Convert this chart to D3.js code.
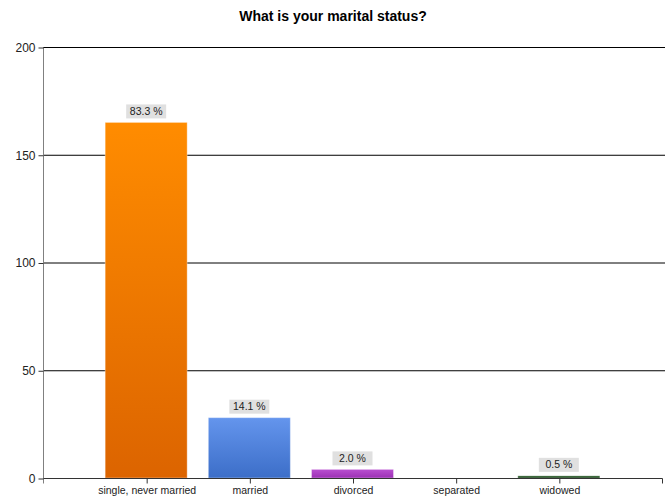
<!DOCTYPE html>
<html>
<head>
<meta charset="utf-8">
<script src="https://cdn.jsdelivr.net/npm/d3@7"></script>
<style>
  body { margin: 0; background: #fff; }
  svg { display: block; font-family: "Liberation Sans", Arial, sans-serif; }
</style>
</head>
<body>
<svg id="chart" width="667" height="499"></svg>
<script>
// Survey answers: marital status
const categories = ["single, never married", "married", "divorced", "separated", "widowed"];
const counts = [165, 28, 4, 0, 1];
const percentLabels = ["83.3 %", "14.1 %", "2.0 %", null, "0.5 %"];
const yTicks = [0, 50, 100, 150, 200];
const barTop = ["#ff8c00", "#6495ed", "#b94fd0", "#888888", "#2a5e2a"];
const barBottom = ["#dc6400", "#3c6ec8", "#9c30b4", "#666666", "#164016"];

const svg = d3.select("#chart");
const plotLeft = 43, plotRight = 662, plotTop = 47, plotBottom = 478;

const x = d3.scaleLinear().domain([0, categories.length + 1]).range([plotLeft, plotRight]);
const y = d3.scaleLinear().domain([0, 200]).range([plotBottom, plotTop]);
const barWidth = 82;

// Title
svg.append("text")
  .attr("x", 333).attr("y", 21)
  .attr("text-anchor", "middle")
  .attr("font-size", 14).attr("font-weight", "bold")
  .attr("fill", "#000")
  .text("What is your marital status?");

// Gradients
const defs = svg.append("defs");
categories.forEach((c, i) => {
  const g = defs.append("linearGradient").attr("id", "grad" + i)
    .attr("x1", 0).attr("y1", 0).attr("x2", 0).attr("y2", 1);
  g.append("stop").attr("offset", "0%").attr("stop-color", barTop[i]);
  g.append("stop").attr("offset", "100%").attr("stop-color", barBottom[i]);
});

// Horizontal gridlines
svg.append("g").selectAll("line")
  .data(yTicks.filter(t => t > 0))
  .join("line")
  .attr("x1", plotLeft).attr("x2", plotRight + 3)
  .attr("y1", d => y(d) + 0.5).attr("y2", d => y(d) + 0.5)
  .attr("stroke", "#000").attr("stroke-width", 1);

// Y axis
const yAxis = d3.axisLeft(y).tickValues(yTicks).tickSize(5).tickPadding(3);
const gy = svg.append("g").attr("transform", `translate(${plotLeft + 0.5},0.5)`).call(yAxis);
gy.select(".domain").attr("stroke", "#808080").attr("d", `M0,${plotTop}V${plotBottom + 5}`);
gy.selectAll(".tick line").attr("stroke", "#333");
gy.selectAll(".tick text").attr("font-size", 12).attr("fill", "#222")
  .attr("font-family", "'Liberation Sans', Arial, sans-serif");

// Bars
svg.append("g").selectAll("rect")
  .data(counts.map((v, i) => ({ v, i })).filter(d => d.v > 0))
  .join("rect")
  .attr("x", d => x(d.i + 1) - barWidth / 2)
  .attr("width", barWidth)
  .attr("y", d => y(d.v))
  .attr("height", d => Math.max(1, y(0) - y(d.v)))
  .attr("fill", d => `url(#grad${d.i})`)
  .attr("stroke", "rgba(255,255,255,0.35)").attr("stroke-width", 1);

// X axis
const xAxis = d3.axisBottom(x)
  .tickValues(d3.range(1, categories.length + 1))
  .tickFormat(d => categories[d - 1])
  .tickSize(5).tickPadding(3);
const gx = svg.append("g").attr("transform", `translate(0.5,${plotBottom + 0.5})`).call(xAxis);
gx.select(".domain").attr("stroke", "#333").attr("d", `M${plotLeft},0H${plotRight}V5`);
gx.selectAll(".tick line").attr("stroke", "#333");
gx.selectAll(".tick text").attr("font-size", 10.5).attr("fill", "#222")
  .attr("font-family", "'Liberation Sans', Arial, sans-serif");

// Percent labels
const lbl = svg.append("g").selectAll("g")
  .data(counts.map((v, i) => ({ v, i, t: percentLabels[i] })).filter(d => d.t))
  .join("g")
  .attr("transform", d => `translate(${x(d.i + 1)},${y(d.v) - 4})`);
lbl.append("rect")
  .attr("x", -20).attr("y", -14).attr("width", 40).attr("height", 14)
  .attr("fill", "#e0e0e0");
lbl.append("text")
  .attr("y", -3.5).attr("text-anchor", "middle")
  .attr("font-size", 10.5).attr("fill", "#222")
  .text(d => d.t);
</script>
</body>
</html>
